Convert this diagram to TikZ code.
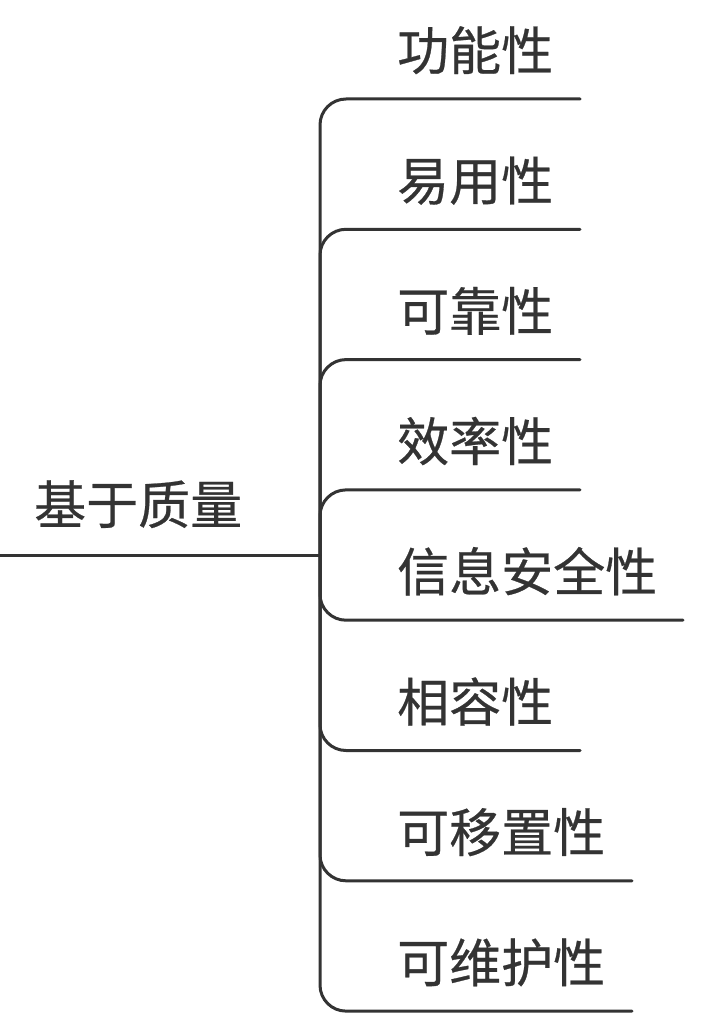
\documentclass[tikz,border=0pt]{standalone}
\usepackage{fontspec}
\newfontfamily\cjk[FakeBold=0.5]{Noto Sans CJK SC}
\definecolor{ink}{HTML}{333333}
\begin{document}
\begin{tikzpicture}[x=1pt,y=-1pt,
  conn/.style={draw=ink,line width=3pt,line cap=round},
  branchconn/.style={conn,rounded corners=26pt},
  lbl/.style={inner sep=0pt,anchor=base west,text=ink,font=\cjk\fontsize{52}{52}\selectfont}]
\useasboundingbox (0,0) rectangle (722,1032);
% root
\node[lbl] (root) at (34,524) {基于质量};
\coordinate (rootend) at (0,555);
\coordinate (hub) at (320,555);
\draw[conn,line cap=butt] (rootend) -- (hub);
% branches
\foreach \name/\txt/\k/\xe in {b1/功能性/0/580, b2/易用性/1/580, b3/可靠性/2/580, b4/效率性/3/580,
  b5/信息安全性/4/683, b6/相容性/5/580, b7/可移置性/6/632, b8/可维护性/7/632}{
  \pgfmathsetmacro{\ly}{99+130.3*\k}
  \node[lbl] (\name) at (397,\ly-29) {\txt};
  \coordinate (\name end) at (\xe,\ly);
  \draw[branchconn] (hub) |- (\name end);
}
\end{tikzpicture}
\end{document}
